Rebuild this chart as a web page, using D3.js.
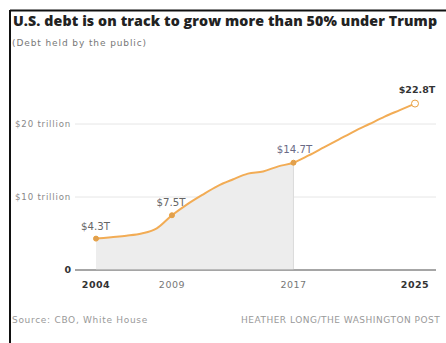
<!DOCTYPE html>
<html>
<head>
<meta charset="utf-8">
<script src="https://cdn.jsdelivr.net/npm/d3@7"></script>
<style>
  body { margin:0; background:#fff; }
  svg { display:block; font-family:'DejaVu Sans', sans-serif; }
</style>
</head>
<body>
<div id="chart"></div>
<script>
// Debt held by the public, trillions of dollars
const years  = [2004,2005,2006,2007,2008,2009,2010,2011,2012,2013,2014,2015,2016,2017,2018,2019,2020,2021,2022,2023,2024,2025];
const debt   = [4.3,4.5,4.7,5.0,5.7,7.5,9.0,10.3,11.5,12.4,13.2,13.5,14.2,14.7,15.7,16.8,17.9,19.0,20.0,21.0,21.9,22.8];
const yTicks = [0, 10, 20];
const yTickLabels = ['0', '$10 trillion', '$20 trillion'];
const xTicks = [2004, 2009, 2017, 2025];
const boldYears = [2004, 2025];
const callouts = [
  { year:2004, label:'$4.3T' },
  { year:2009, label:'$7.5T' },
  { year:2017, label:'$14.7T' },
  { year:2025, label:'$22.8T' }
];
const shadeEnd = 2017;

const W = 446, H = 343;
const svg = d3.select('#chart').append('svg').attr('width', W).attr('height', H);

// frame (top and left rules)
svg.append('line').attr('x1', 10).attr('x2', W).attr('y1', 10.5).attr('y2', 10.5)
  .attr('stroke', '#111').attr('stroke-width', 2);
svg.append('line').attr('x1', 10).attr('x2', 10).attr('y1', 10).attr('y2', H)
  .attr('stroke', '#111').attr('stroke-width', 2);

svg.append('text').attr('x', 13).attr('y', 26)
  .attr('font-family', "'Open Sans', sans-serif")
  .attr('font-size', 14.2).attr('font-weight', 800).attr('fill', '#222')
  .attr('textLength', 424).attr('lengthAdjust', 'spacing')
  .text('U.S. debt is on track to grow more than 50% under Trump');
svg.append('text').attr('x', 12).attr('y', 46)
  .attr('font-size', 9).attr('letter-spacing', 0.9).attr('fill', '#777')
  .text('(Debt held by the public)');

const x = d3.scaleLinear().domain([2004, 2025]).range([96, 415]);
const y = d3.scaleLinear().domain([0, 20]).range([270, 124]);

const data = years.map((yr, i) => ({ year: yr, value: debt[i] }));

// gridlines + y labels
yTicks.forEach((t, i) => {
  svg.append('line').attr('x1', 75).attr('x2', 436)
    .attr('y1', y(t)).attr('y2', y(t))
    .attr('stroke', t === 0 ? '#888' : '#e6e6e6').attr('stroke-width', 1);
  svg.append('text').attr('x', 71).attr('y', y(t) + 3)
    .attr('text-anchor', 'end').attr('font-size', t === 0 ? 9.5 : 8.6)
    .attr('letter-spacing', t === 0 ? 0 : 0.8)
    .attr('font-weight', t === 0 ? 700 : 400)
    .attr('fill', t === 0 ? '#333' : '#888')
    .text(yTickLabels[i]);
});

// shaded area up to 2017
const shaded = data.filter(d => d.year <= shadeEnd);
svg.append('path').datum(shaded)
  .attr('d', d3.area().curve(d3.curveMonotoneX)
    .x(d => x(d.year)).y0(y(0)).y1(d => y(d.value)))
  .attr('fill', '#ededed');
svg.append('line').attr('x1', x(shadeEnd)).attr('x2', x(shadeEnd))
  .attr('y1', y(14.7)).attr('y2', y(0))
  .attr('stroke', '#dcdcdc').attr('stroke-width', 1);

// redraw zero line over area
svg.append('line').attr('x1', 75).attr('x2', 436).attr('y1', y(0)).attr('y2', y(0))
  .attr('stroke', '#888').attr('stroke-width', 1);

// line
svg.append('path').datum(data)
  .attr('d', d3.line().curve(d3.curveMonotoneX).x(d => x(d.year)).y(d => y(d.value)))
  .attr('fill', 'none').attr('stroke', '#f2ac55').attr('stroke-width', 2);

// markers and callouts
const labelPos = {
  2004: { dx: -15, dy: -9, anchor:'start', color:'#666', weight:400 },
  2009: { dx: -1, dy: -9, anchor:'middle', color:'#666', weight:400 },
  2017: { dx: 1, dy: -10, anchor:'middle', color:'#6a6a86', weight:400 },
  2025: { dx: 2, dy: -11, anchor:'middle', color:'#333', weight:700 }
};
callouts.forEach(c => {
  const v = debt[years.indexOf(c.year)];
  const p = labelPos[c.year];
  svg.append('circle').attr('cx', x(c.year)).attr('cy', y(v)).attr('r', c.year === 2025 ? 3.5 : 2.5)
    .attr('fill', c.year === 2025 ? '#fff' : '#e0a050')
    .attr('stroke', '#e8a040').attr('stroke-width', 1);
  svg.append('text').attr('x', x(c.year) + p.dx).attr('y', y(v) + p.dy)
    .attr('text-anchor', p.anchor).attr('font-size', c.year === 2025 ? 9.5 : 10.2)
    .attr('font-weight', p.weight).attr('fill', p.color)
    .text(c.label);
});

// x labels
xTicks.forEach(t => {
  svg.append('text').attr('x', x(t)).attr('y', 288)
    .attr('text-anchor', 'middle').attr('font-size', 9.5)
    .attr('letter-spacing', 0.5)
    .attr('font-weight', boldYears.includes(t) ? 700 : 400)
    .attr('fill', boldYears.includes(t) ? '#333' : '#777')
    .text(t);
});

// footer
svg.append('text').attr('x', 12).attr('y', 323)
  .attr('font-size', 9).attr('letter-spacing', 0.7).attr('fill', '#999')
  .text('Source: CBO, White House');
svg.append('text').attr('x', 241).attr('y', 323)
  .attr('font-size', 9).attr('letter-spacing', 0.5).attr('fill', '#999')
  .text('HEATHER LONG/THE WASHINGTON POST');
</script>
</body>
</html>
